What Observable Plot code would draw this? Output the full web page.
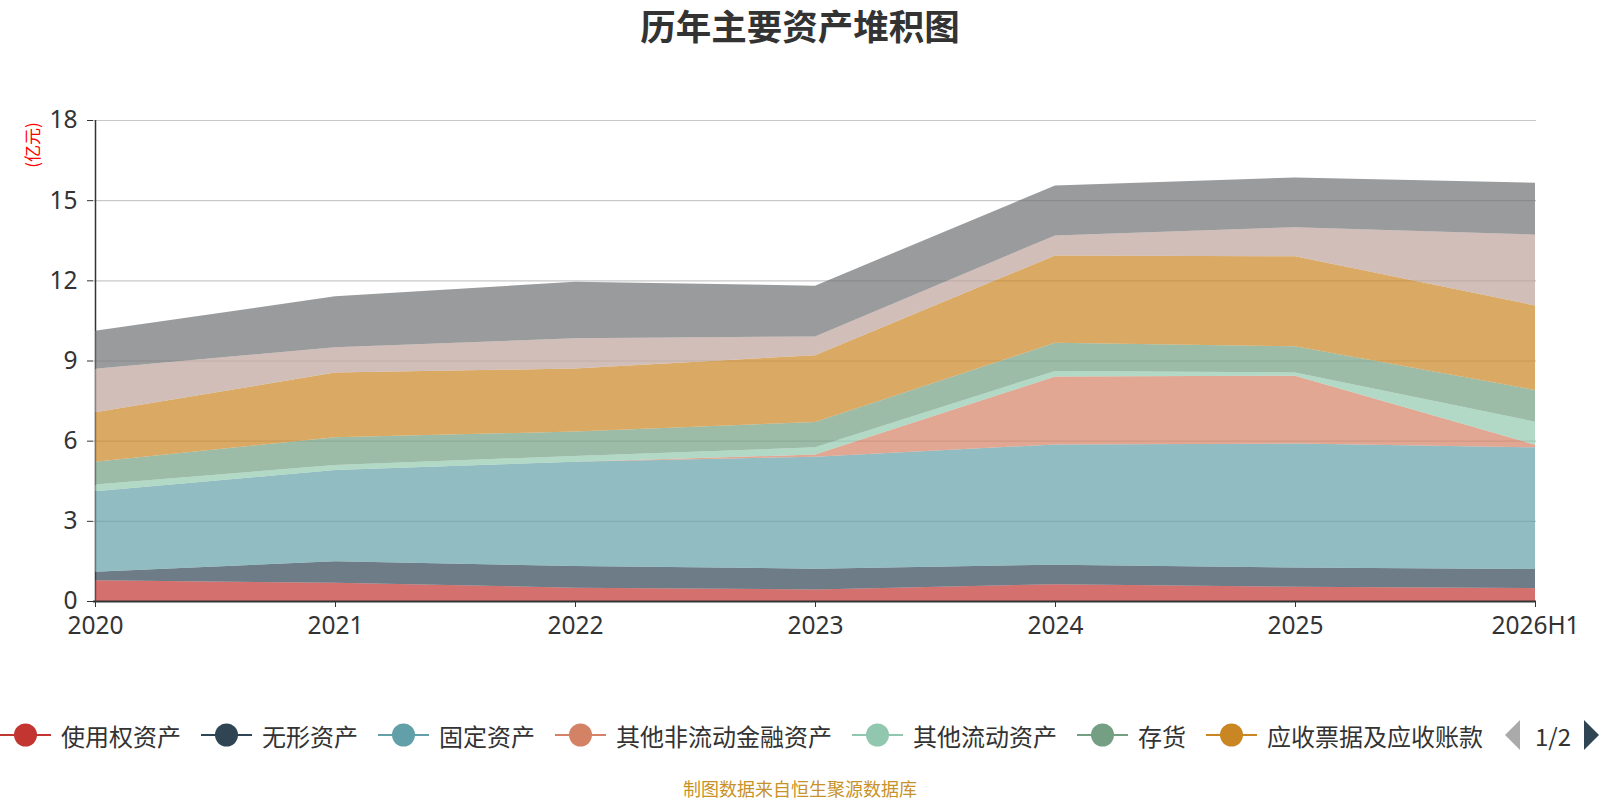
<!DOCTYPE html>
<html>
<head>
<meta charset="utf-8">
<script src="https://cdn.jsdelivr.net/npm/d3@7"></script>
<script src="https://cdn.jsdelivr.net/npm/@observablehq/plot@0.6"></script>
<style>
  html, body { margin: 0; padding: 0; background: #fff; }
  #root { position: relative; width: 1600px; height: 800px; overflow: hidden; font-family: "Noto Sans CJK SC", "Noto Sans", sans-serif; }
  #chart { position: absolute; left: 0; top: 0; }
  #title { position: absolute; left: 0; top: 2px; width: 1600px; text-align: center; font-size: 35.5px; font-weight: bold; color: #333; line-height: 46px; }
  #ylabel { position: absolute; left: 31px; top: 145px; transform: translate(-50%, -50%) rotate(-90deg); color: #ff0000; font-size: 17px; white-space: nowrap; }
  #legend { position: absolute; left: 0; top: 717px; height: 36px; display: flex; align-items: center; color: #333; font-size: 24px; }
  .item { display: flex; align-items: center; margin-right: 20px; }
  .item span { margin-left: 10px; white-space: nowrap; }
  #pager { display: flex; align-items: center; font-size: 24px; color: #333; }
  #footer { position: absolute; left: 0; top: 778px; width: 1600px; text-align: center; font-size: 18px; line-height: 21px; color: #c8922a; }
</style>
</head>
<body>
<div id="root">
  <div id="chart"></div>
  <div id="title">历年主要资产堆积图</div>
  <div id="ylabel">(亿元)</div>
  <div id="legend"></div>
  <div id="footer">制图数据来自恒生聚源数据库</div>
</div>
<script>
// ---- data ----
const years = ["2020", "2021", "2022", "2023", "2024", "2025", "2026H1"];
const seriesNames = ["使用权资产", "无形资产", "固定资产", "其他非流动金融资产", "其他流动资产", "存货", "应收票据及应收账款", "合同资产", "货币资金"];
const seriesColors = ["#c23531", "#2f4554", "#61a0a8", "#d48265", "#91c7ae", "#749f83", "#ca8622", "#bda29a", "#6e7074"];
const legendShown = 7;
const 使用权资产 = [0.78, 0.68, 0.50, 0.43, 0.63, 0.53, 0.48];
const 无形资产 = [0.31, 0.81, 0.81, 0.78, 0.73, 0.72, 0.72];
const 固定资产 = [3.02, 3.41, 3.90, 4.19, 4.50, 4.64, 4.55];
const 其他非流动金融资产 = [0.00, 0.00, 0.00, 0.08, 2.54, 2.54, 0.10];
const 其他流动资产 = [0.25, 0.19, 0.22, 0.27, 0.21, 0.12, 0.86];
const 存货 = [0.85, 1.04, 0.91, 0.95, 1.05, 0.98, 1.19];
const 应收票据及应收账款 = [1.85, 2.42, 2.36, 2.50, 3.27, 3.37, 3.16];
const 合同资产 = [1.63, 0.95, 1.13, 0.70, 0.75, 1.09, 2.65];
const 货币资金 = [1.42, 1.90, 2.12, 1.90, 1.87, 1.86, 1.94];
const yTicks = [0, 3, 6, 9, 12, 15, 18];

const seriesValues = [使用权资产, 无形资产, 固定资产, 其他非流动金融资产, 其他流动资产, 存货, 应收票据及应收账款, 合同资产, 货币资金];
const rows = [];
seriesNames.forEach((name, i) => {
  years.forEach((yr, j) => rows.push({name, year: yr, value: seriesValues[i][j]}));
});

const chart = Plot.plot({
  width: 1600,
  height: 660,
  marginLeft: 93,
  marginRight: 64,
  marginTop: 120,
  marginBottom: 59,
  style: {fontSize: "24.5px", fontFamily: "'Noto Sans', 'Noto Sans CJK SC', sans-serif", color: "#333", background: "transparent"},
  x: {type: "point", domain: years, padding: 0},
  y: {domain: [0, 18]},
  color: {domain: seriesNames, range: seriesColors},
  marks: [
    Plot.gridY(yTicks.filter(d => d > 0), {stroke: "#c8c8c8", strokeOpacity: 1, strokeWidth: 1.2}),
    Plot.ruleX([years[0]], {y1: 0, y2: 18, stroke: "#333", strokeWidth: 1.5}),
    Plot.areaY(rows, Plot.stackY({x: "year", y: "value", z: "name", fill: "name", fillOpacity: 0.7, curve: "linear", order: seriesNames})),
    Plot.ruleY([0], {stroke: "#333", strokeWidth: 2}),
    Plot.axisY({ticks: yTicks, tickSize: 6, tickPadding: 10, label: null, stroke: "#333", fill: "#333", fontSize: 24.5}),
    Plot.axisX({tickSize: 6, tickPadding: 9, label: null, stroke: "#333", fill: "#333", fontSize: 24.5})
  ]
});
document.getElementById("chart").appendChild(chart);

// ---- legend ----
const legend = document.getElementById("legend");
seriesNames.slice(0, legendShown).forEach((name, i) => {
  const item = document.createElement("div");
  item.className = "item";
  item.innerHTML = `<svg width="51" height="26"><line x1="0" x2="51" y1="13" y2="13" stroke="${seriesColors[i]}" stroke-width="2"/><circle cx="25.5" cy="13" r="11.5" fill="${seriesColors[i]}"/></svg><span>${name}</span>`;
  legend.appendChild(item);
});
const pager = document.createElement("div");
pager.id = "pager";
pager.innerHTML = `<svg width="18" height="32"><path d="M17,1 L2,16 L17,31 Z" fill="#aaa"/></svg><span style="margin:0 12px 0 14px">1/2</span><svg width="18" height="32"><path d="M1,1 L16,16 L1,31 Z" fill="#2f4554"/></svg>`;
legend.appendChild(pager);
</script>
</body>
</html>
